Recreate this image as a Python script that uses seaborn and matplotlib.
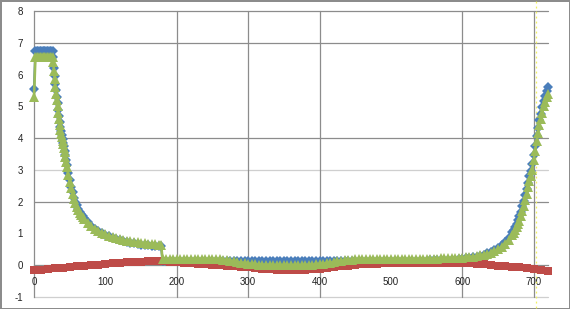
import matplotlib
matplotlib.use("Agg")
import matplotlib.pyplot as plt
import seaborn as sns

# ---------------- data ----------------
# shared sampling positions of the blue and green series
x_bg = (list(range(0, 27, 2)) + list(range(27, 47)) + list(range(48, 71, 2))
        + list(range(75, 176, 5)) + [178] + list(range(180, 671, 5))
        + list(range(672, 721, 2)))

blue = (
    [5.55, 6.75, 6.75, 6.75, 6.75, 6.75, 6.75, 6.75, 6.75, 6.75, 6.75, 6.75, 6.75, 6.75]
    + [6.55, 6.22, 5.96, 5.71, 5.5, 5.3, 5.1, 4.9, 4.7, 4.51,
       4.35, 4.21, 4.09, 3.98, 3.86, 3.74, 3.61, 3.46, 3.31, 3.16]
    + [2.9, 2.67, 2.47, 2.29, 2.13, 1.99, 1.88, 1.78, 1.69, 1.61, 1.55, 1.48]
    + [1.35, 1.24, 1.15, 1.08, 1.01, 0.96, 0.91, 0.87, 0.83, 0.79, 0.76,
       0.73, 0.71, 0.69, 0.67, 0.65, 0.64, 0.63, 0.62, 0.61, 0.60]
    + [0.60]
    + [0.14, 0.14, 0.14, 0.14, 0.14, 0.14, 0.14, 0.14, 0.14, 0.14, 0.14, 0.14, 0.14, 0.14, 0.14,
       0.14, 0.14, 0.14, 0.14, 0.14, 0.14, 0.14, 0.14, 0.14, 0.14, 0.14, 0.14, 0.14, 0.14, 0.14,
       0.14, 0.14, 0.14, 0.14, 0.14, 0.14, 0.14, 0.14, 0.14, 0.14, 0.14, 0.14, 0.14, 0.14, 0.14,
       0.14, 0.14, 0.14, 0.14, 0.14, 0.14, 0.14, 0.14, 0.14, 0.14, 0.14, 0.14, 0.14, 0.14, 0.14,
       0.14, 0.14, 0.14, 0.14, 0.14, 0.14, 0.14, 0.14, 0.14, 0.14, 0.14, 0.14, 0.14, 0.14, 0.14]
    + [0.15, 0.15, 0.16, 0.16, 0.17, 0.17, 0.18, 0.18, 0.19]
    + [0.21, 0.22, 0.23, 0.25, 0.27, 0.30, 0.33, 0.37, 0.42, 0.47, 0.54, 0.63, 0.74, 0.87, 1.03]
    + [1.12, 1.21, 1.31, 1.42, 1.54, 1.69, 1.85, 2.01, 2.2, 2.4, 2.6, 2.8, 2.98,
       3.17, 3.46, 3.76, 4.06, 4.32, 4.56, 4.77, 4.97, 5.17, 5.34, 5.48, 5.6]
)

green = (
    [5.3, 6.55, 6.55, 6.55, 6.55, 6.55, 6.55, 6.55, 6.55, 6.55, 6.55, 6.55, 6.55, 6.55]
    + [6.4, 6.1, 5.85, 5.6, 5.4, 5.2, 5.0, 4.8, 4.6, 4.42,
       4.27, 4.13, 4.02, 3.92, 3.8, 3.68, 3.55, 3.4, 3.25, 3.1]
    + [2.85, 2.62, 2.42, 2.24, 2.08, 1.95, 1.84, 1.74, 1.65, 1.58, 1.52, 1.46]
    + [1.33, 1.23, 1.15, 1.08, 1.02, 0.97, 0.93, 0.89, 0.85, 0.82, 0.79,
       0.77, 0.75, 0.73, 0.72, 0.70, 0.69, 0.68, 0.67, 0.66, 0.65]
    + [0.65]
    + [0.2, 0.2, 0.2, 0.2, 0.2, 0.2, 0.2, 0.2, 0.2, 0.2, 0.2, 0.2, 0.2, 0.2, 0.2, 0.2]
    + [0.19, 0.18, 0.16, 0.14, 0.12, 0.10, 0.08, 0.07, 0.05, 0.04, 0.03, 0.02, 0.02,
       0.01, 0.01, 0.0, 0.0, 0.0, 0.0, 0.0, 0.0, 0.0, 0.0, 0.0, 0.01, 0.01, 0.02,
       0.03, 0.04, 0.05, 0.07, 0.08, 0.10, 0.12, 0.14, 0.15, 0.17, 0.18, 0.19]
    + [0.2, 0.2, 0.2, 0.2, 0.2, 0.2, 0.2, 0.2, 0.2, 0.2, 0.2, 0.2, 0.2, 0.2, 0.2, 0.2, 0.2, 0.2, 0.2, 0.2]
    + [0.21, 0.21, 0.21, 0.22, 0.22, 0.22, 0.23, 0.23, 0.24]
    + [0.24, 0.25, 0.26, 0.27, 0.29, 0.31, 0.33, 0.36, 0.40, 0.44, 0.50, 0.58, 0.68, 0.80, 0.95]
    + [1.02, 1.1, 1.19, 1.29, 1.4, 1.55, 1.7, 1.85, 2.05, 2.25, 2.45, 2.65, 2.82,
       3.0, 3.3, 3.6, 3.9, 4.15, 4.4, 4.6, 4.8, 5.0, 5.15, 5.28, 5.4]
)

x_red = list(range(0, 721, 10))
red = [-0.16, -0.14, -0.12, -0.10, -0.08, -0.06, -0.04, -0.02, 0.0, 0.02,
       0.04, 0.06, 0.08, 0.09, 0.10, 0.11, 0.12, 0.13, 0.13, 0.11,
       0.09, 0.07, 0.06, 0.04, 0.03, 0.02, 0.0, -0.02, -0.04, -0.05,
       -0.07, -0.09, -0.11, -0.13, -0.14, -0.15, -0.16, -0.15, -0.14, -0.13,
       -0.11, -0.08, -0.05, -0.03, -0.01, 0.01, 0.03, 0.04, 0.05, 0.06,
       0.06, 0.07, 0.07, 0.07, 0.08, 0.08, 0.08, 0.08, 0.08, 0.08,
       0.07, 0.06, 0.05, 0.03, 0.01, -0.01, -0.03, -0.05, -0.07, -0.09,
       -0.11, -0.14, -0.17]

x_ticks = [0, 100, 200, 300, 400, 500, 600, 700]
y_ticks = [-1, 0, 1, 2, 3, 4, 5, 6, 7, 8]
grid_y_dark = [8, 7, 4, 2]
grid_y_light = [3, -1]
grid_x = [200, 300, 400, 600, 700]

# ---------------- style ----------------
sns.set_style("white")
plt.rcParams["font.family"] = ["Liberation Sans", "DejaVu Sans"]
plt.rcParams["axes.unicode_minus"] = False

BLUE = "#4A7EBB"
RED = "#BE4B48"
GREEN = "#9BBB59"

fig = plt.figure(figsize=(5.70, 3.09), dpi=100)
ax = fig.add_axes([34 / 570, 1 - 297 / 309, (548 - 34) / 570, (297 - 11) / 309])

for gy in grid_y_dark:
    ax.axhline(gy, color="#8c8c8c", lw=0.9, zorder=0.5)
for gy in grid_y_light:
    ax.axhline(gy, color="#cfcfcf", lw=0.9, zorder=0.5)
for gx in grid_x:
    ax.axvline(gx, color="#8c8c8c", lw=0.9, zorder=0.5)

common = dict(sort=False, estimator=None, ax=ax, markeredgewidth=0)
sns.lineplot(x=x_bg, y=blue, color=BLUE, marker="D", markersize=4.8,
             linewidth=1.6, **common)
sns.lineplot(x=x_red, y=red, color=RED, marker="s", markersize=6.2,
             linewidth=1.6, **common)
sns.lineplot(x=x_bg, y=green, color=GREEN, marker="^", markersize=7.0,
             linewidth=1.9, **common)
for ln in ax.lines:
    ln.set_clip_on(False)

# faint yellow dotted artefact line
ax.axvline(703, ymin=-0.04, ymax=1.04, color="#f0f060", lw=0.9,
           ls=(0, (1.5, 2.5)), clip_on=False, zorder=0.6)

ax.set_xlim(0, 720)
ax.set_ylim(-1, 8)
ax.set_xticks(x_ticks)
ax.set_xticklabels([str(v) for v in x_ticks])
ax.set_yticks(y_ticks)
ax.set_yticklabels([str(v) for v in y_ticks])
ax.tick_params(axis="x", length=0, pad=8.5, labelsize=7, labelcolor="#222222")
ax.tick_params(axis="y", length=0, pad=8, labelsize=7, labelcolor="#222222")

for s in ["top", "right"]:
    ax.spines[s].set_visible(False)
ax.spines["left"].set_color("#8c8c8c")
ax.spines["left"].set_linewidth(0.9)
ax.spines["bottom"].set_position(("data", 0))
ax.spines["bottom"].set_color("#8c8c8c")
ax.spines["bottom"].set_linewidth(0.9)
ax.spines["bottom"].set_zorder(0.5)
ax.spines["left"].set_zorder(0.5)
ax.set_xlabel("")
ax.set_ylabel("")

fig.patch.set_edgecolor("#8c8c8c")
fig.patch.set_linewidth(2)

fig.savefig("out.png", dpi=100, facecolor="white", edgecolor=fig.get_edgecolor())
